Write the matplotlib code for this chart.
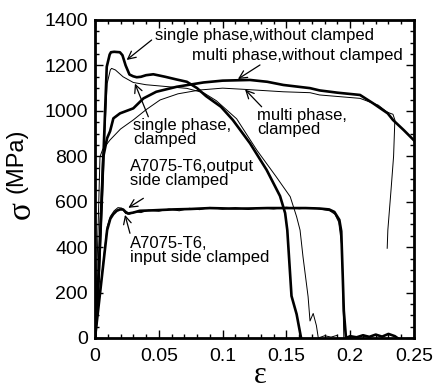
import matplotlib
matplotlib.use('Agg')
import matplotlib.pyplot as plt
from matplotlib.ticker import MultipleLocator, FixedLocator

# ---------------- data ----------------
single_wo_eps = [0, 0.002, 0.005, 0.0092, 0.0115, 0.0125, 0.015, 0.0195, 0.0215, 0.024, 0.027,
                 0.030, 0.0327, 0.036, 0.040, 0.0457, 0.050, 0.055, 0.064, 0.072, 0.080, 0.087,
                 0.0987, 0.108, 0.1215, 0.1345, 0.145, 0.149, 0.1507, 0.154, 0.158, 0.1615]
single_wo_sig = [0, 150, 560, 1194, 1248, 1258, 1260, 1258, 1245, 1200, 1160,
                 1152, 1148, 1150, 1157, 1161, 1156, 1150, 1138, 1128, 1100, 1065,
                 1018, 960, 857, 740, 625, 550, 475, 185, 105, 0]

single_cl_eps = [0, 0.003, 0.006, 0.0095, 0.012, 0.013, 0.016, 0.022, 0.030, 0.040, 0.050, 0.060,
                 0.072, 0.085, 0.095, 0.104, 0.111, 0.1267, 0.142, 0.153, 0.158, 0.1607, 0.163,
                 0.167, 0.1685, 0.171, 0.1735, 0.175, 0.180, 0.185, 0.190]
single_cl_sig = [0, 250, 700, 1120, 1180, 1187, 1180, 1150, 1125, 1115, 1110, 1105,
                 1099, 1080, 1045, 1000, 965, 828, 710, 622, 534, 475, 358,
                 182, 75, 108, 55, 0, 10, 4, 12]

multi_wo_eps = [0, 0.003, 0.0065, 0.0095, 0.0118, 0.0144, 0.0196, 0.030, 0.038, 0.048, 0.064,
                0.085, 0.100, 0.1215, 0.135, 0.1476, 0.1685, 0.176, 0.190, 0.2077, 0.218,
                0.2294, 0.2335, 0.242, 0.250]
multi_wo_sig = [0, 300, 798, 880, 910, 967, 989, 1011, 1055, 1084, 1106,
                1125, 1133, 1136, 1128, 1114, 1100, 1090, 1080, 1070, 1033,
                989, 960, 915, 870]

multi_cl_eps = [0, 0.002, 0.0039, 0.006, 0.0118, 0.020, 0.030, 0.040, 0.051, 0.065, 0.0823,
                0.100, 0.116, 0.1476, 0.1685, 0.176, 0.2077, 0.222, 0.2286, 0.231, 0.2335,
                0.235, 0.234, 0.232, 0.2295, 0.229]
multi_cl_sig = [0, 400, 798, 830, 872, 920, 960, 1005, 1048, 1075, 1092,
                1100, 1095, 1084, 1080, 1070, 1055, 1025, 996, 990, 985,
                960, 800, 652, 475, 395]

a7075_in_eps = [0, 0.005, 0.0095, 0.012, 0.0143, 0.017, 0.0196, 0.022, 0.024, 0.026, 0.030,
                0.035, 0.045, 0.061, 0.075, 0.090, 0.105, 0.120, 0.135, 0.150, 0.165, 0.176,
                0.1835, 0.1876, 0.1915, 0.193, 0.194, 0.195, 0.1967, 0.200, 0.205, 0.210,
                0.215, 0.220, 0.225, 0.230, 0.235, 0.237]
a7075_in_sig = [0, 250, 475, 525, 545, 560, 566, 566, 555, 548, 552,
                560, 562, 566, 568, 572, 570, 570, 572, 572, 572, 570,
                566, 555, 520, 470, 300, 120, 0, 8, 3, 12,
                5, 15, 6, 18, 8, 0]

a7075_out_eps = [0, 0.005, 0.0095, 0.012, 0.015, 0.018, 0.021, 0.024, 0.027, 0.031, 0.036,
                 0.042, 0.050, 0.058, 0.066, 0.074, 0.082, 0.090, 0.100, 0.110, 0.120, 0.130,
                 0.140, 0.150, 0.160, 0.170, 0.178, 0.184, 0.188, 0.191, 0.1935, 0.195]
a7075_out_sig = [0, 260, 490, 535, 560, 574, 572, 548, 545, 556, 552,
                 563, 558, 568, 560, 571, 565, 575, 567, 574, 566, 573,
                 568, 576, 569, 574, 566, 560, 545, 510, 400, 0]

x_ticks = [0, 0.05, 0.1, 0.15, 0.2, 0.25]
x_tick_labels = ['0', '0.05', '0.1', '0.15', '0.2', '0.25']
y_ticks = [0, 200, 400, 600, 800, 1000, 1200, 1400]
y_tick_labels = ['0', '200', '400', '600', '800', '1000', '1200', '1400']

# ---------------- figure ----------------
plt.rcParams['font.family'] = ['Liberation Sans', 'DejaVu Sans']
fig = plt.figure(figsize=(4.42, 3.89), dpi=100)
ax = fig.add_axes([95 / 442, 51 / 389, 319 / 442, 318 / 389])

thick = 1.9
thin = 0.7
ax.plot(single_wo_eps, single_wo_sig, color='k', lw=thick, solid_joinstyle='round')
ax.plot(single_cl_eps, single_cl_sig, color='k', lw=thin)
ax.plot(multi_wo_eps, multi_wo_sig, color='k', lw=thick, solid_joinstyle='round')
ax.plot(multi_cl_eps, multi_cl_sig, color='k', lw=thin)
ax.plot(a7075_in_eps, a7075_in_sig, color='k', lw=thick, solid_joinstyle='round')
ax.plot(a7075_out_eps, a7075_out_sig, color='k', lw=thin)

ax.set_xlim(0, 0.25)
ax.set_ylim(0, 1400)
ax.xaxis.set_major_locator(FixedLocator(x_ticks))
ax.set_xticklabels(x_tick_labels)
ax.yaxis.set_major_locator(FixedLocator(y_ticks))
ax.set_yticklabels(y_tick_labels)
ax.xaxis.set_minor_locator(MultipleLocator(0.01))
ax.yaxis.set_minor_locator(MultipleLocator(50))
ax.tick_params(which='both', direction='in', top=True, right=True, width=1.0, colors='k')
ax.tick_params(which='major', length=5.5, labelsize=14, pad=5)
ax.tick_params(which='minor', length=3)
ax.tick_params(axis='x', which='major', pad=7)
for s in ax.spines.values():
    s.set_linewidth(2)

# axis labels
ax.text(-0.229, 0.4025, 'σ', rotation=90, transform=ax.transAxes, ha='center', va='center',
        fontsize=24, family=['Liberation Serif', 'DejaVu Serif'])
ax.text(-0.245, 0.557, '(MPa)', rotation=90, transform=ax.transAxes, ha='center', va='center',
        fontsize=17)
ax.text(0.517, (338 - 383) / 318, 'ε', transform=ax.transAxes, ha='center', va='baseline',
        fontsize=22, family=['Liberation Serif', 'DejaVu Serif'])

# annotations
fs = 12
ls = 0.85
ap = dict(arrowstyle='->', color='k', lw=0.9, mutation_scale=14, shrinkA=0, shrinkB=0)
ax.text(0.047, 1330, 'single phase,without clamped', fontsize=fs, va='center', ha='left')
ax.annotate('', xy=(0.0248, 1224), xytext=(0.0444, 1312), arrowprops=ap)
ax.text(0.076, 1242, 'multi phase,without clamped', fontsize=fs, va='center', ha='left')
ax.annotate('', xy=(0.112, 1140), xytext=(0.1293, 1202), arrowprops=ap)
ax.text(0.0298, 905, 'single phase,\nclamped', fontsize=fs, va='center', ha='left', linespacing=ls)
ax.annotate('', xy=(0.0313, 1120), xytext=(0.0418, 974), arrowprops=ap)
ax.text(0.127, 949, 'multi phase,\nclamped', fontsize=fs, va='center', ha='left', linespacing=ls)
ax.annotate('', xy=(0.1176, 1094), xytext=(0.1306, 1018), arrowprops=ap)
ax.text(0.0274, 724, 'A7075-T6,output\nside clamped', fontsize=fs, va='center', ha='left', linespacing=ls)
ax.annotate('', xy=(0.0261, 573), xytext=(0.0379, 615), arrowprops=ap)
ax.text(0.0274, 385, 'A7075-T6,\ninput side clamped', fontsize=fs, va='center', ha='left', linespacing=ls)
ax.annotate('', xy=(0.0235, 542), xytext=(0.0274, 461), arrowprops=ap)

fig.savefig('out.png', dpi=100)
